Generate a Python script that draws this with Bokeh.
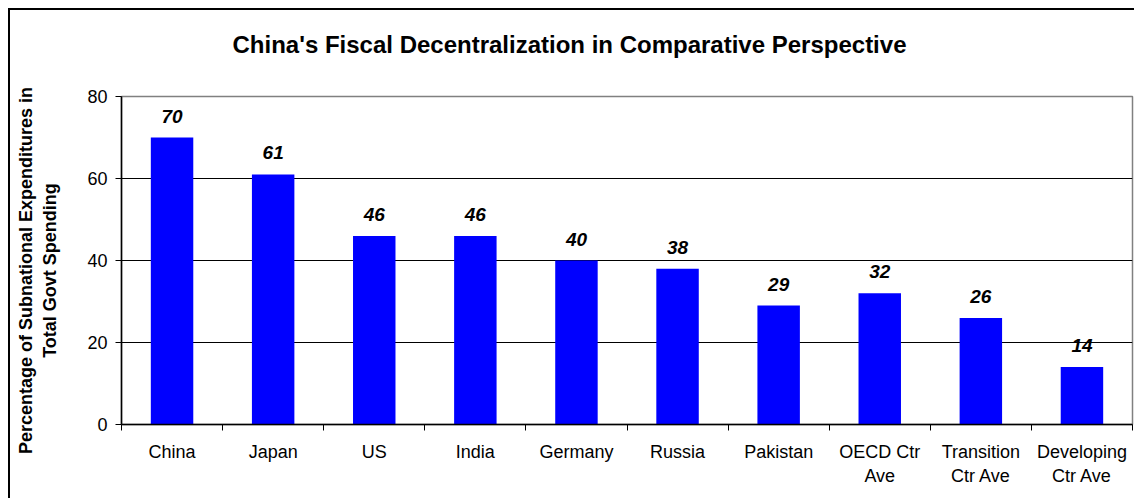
from bokeh.plotting import figure
from bokeh.models import FixedTicker, LabelSet, Range1d, ColumnDataSource
from bokeh.core.properties import value
from bokeh.embed import file_html
from bokeh.resources import INLINE

# ---- data ----
categories = ["China", "Japan", "US", "India", "Germany", "Russia", "Pakistan",
              "OECD Ctr\nAve", "Transition\nCtr Ave", "Developing\nCtr Ave"]
shares = [70, 61, 46, 46, 40, 38, 29, 32, 26, 14]
y_ticks = [0, 20, 40, 60, 80]
grid_ticks = [20, 40, 60]
title_text = "China's Fiscal Decentralization in Comparative Perspective"
y_label_lines = ["Percentage of Subnational Expenditures in", "Total Govt Spending"]

FONT = "Liberation Sans"
n = len(categories)
x_pos = [i + 0.5 for i in range(n)]

# ---- geometry (page pixels) ----
PAGE_OFF = 10                 # 8px margin + 2px frame border
FR_L, FR_R, FR_T, FR_B = 121, 1132, 96, 424
W, H = 1126, 490
Y_MAX = 80
TITLE_SIZE = 24
title_w_est = 28.08 * TITLE_SIZE       # approximate rendered width of title
TITLE_CX = 571
NBSP = "\u00a0" * 4                    # shifts the rotated label block a little lower

p = figure(width=W, height=H, output_backend="svg", toolbar_location=None,
           x_range=Range1d(0, n), y_range=Range1d(0, Y_MAX),
           min_border_left=FR_L - PAGE_OFF, min_border_right=W - (FR_R - PAGE_OFF),
           min_border_top=FR_T - PAGE_OFF, min_border_bottom=H - (FR_B - PAGE_OFF))
p.styles = {"margin-left": "8px", "margin-top": "8px",
            "border-left": "2px solid black", "border-top": "2px solid black"}
p.background_fill_color = "white"
p.border_fill_color = "white"
p.outline_line_color = "#808080"
p.outline_line_width = 1.5

# title (second blank line lifts it away from the plot area)
p.title.text = title_text + "\n\u00a0"
p.title.align = "left"
p.title.offset = TITLE_CX - FR_L - title_w_est / 2 - 2
p.title.text_font = FONT
p.title.text_font_size = f"{TITLE_SIZE}px"
p.title.text_font_style = "bold"
p.title.text_color = "black"
p.title.standoff = 24

src = ColumnDataSource(dict(x=x_pos, top=shares, lab=[str(v) for v in shares]))
p.vbar(x="x", top="top", width=0.42, bottom=0, source=src,
       fill_color="#0000FF", line_color=None)

labels = LabelSet(x="x", y="top", text="lab", source=src, y_offset=15,
                  text_align="center", text_baseline="alphabetic",
                  text_font=value(FONT), text_font_size=value("19px"),
                  text_font_style="bold italic", text_color="black")
p.add_layout(labels)

# grid
p.xgrid.grid_line_color = None
p.ygrid.ticker = FixedTicker(ticks=grid_ticks)
p.ygrid.grid_line_color = "black"
p.ygrid.grid_line_width = 1

# x axis
xa = p.xaxis[0]
xa.ticker = FixedTicker(ticks=x_pos, minor_ticks=list(range(n + 1)))
xa.major_label_overrides = {x: c for x, c in zip(x_pos, categories)}
xa.major_tick_line_color = None
xa.major_tick_out = 0
xa.major_tick_in = 0
xa.minor_tick_line_color = "black"
xa.minor_tick_out = 6
xa.minor_tick_in = 0
xa.axis_line_color = "black"
xa.axis_line_width = 1.5
xa.major_label_text_font = FONT
xa.major_label_text_font_size = "18px"
xa.major_label_text_color = "black"
xa.major_label_standoff = 11

# y axis
ya = p.yaxis[0]
ya.ticker = FixedTicker(ticks=y_ticks)
ya.major_tick_out = 6
ya.major_tick_in = 0
ya.major_tick_line_color = "black"
ya.minor_tick_line_color = None
ya.axis_line_color = "black"
ya.axis_line_width = 1.5
ya.major_label_text_font = FONT
ya.major_label_text_font_size = "18px"
ya.major_label_text_color = "black"
ya.major_label_standoff = 8
ya.axis_label = "\n".join(line + NBSP for line in y_label_lines)
ya.axis_label_text_font = FONT
ya.axis_label_text_font_size = "18px"
ya.axis_label_text_font_style = "bold"
ya.axis_label_text_color = "black"
ya.axis_label_standoff = 24

open("out.html", "w").write(file_html(p, INLINE))
